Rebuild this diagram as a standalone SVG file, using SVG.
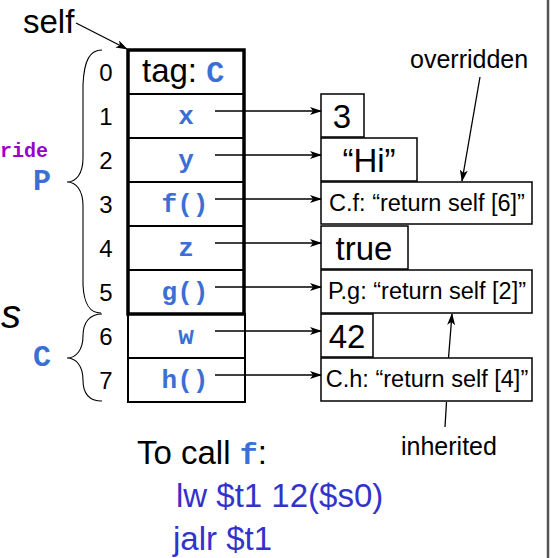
<svg xmlns="http://www.w3.org/2000/svg" width="551" height="558" viewBox="0 0 551 558">
<style>
.sans{font-family:"Liberation Sans",Arial,sans-serif;fill:#000}
.mono{font-family:"Liberation Mono","Courier New",monospace;font-weight:bold;fill:#3b6fd4}
.row{fill:#fff;stroke:#000;stroke-width:2}
.box{fill:#fff;stroke:#000;stroke-width:1.5}
.num{font-family:"Liberation Sans",Arial,sans-serif;font-size:24px;text-anchor:middle}
.fld{font-size:26px;text-anchor:middle}
.big{font-family:"Liberation Sans",Arial,sans-serif;font-size:33px}
.val{font-family:"Liberation Sans",Arial,sans-serif;font-size:23.5px}
.conn{stroke:#000;stroke-width:1.3;fill:none}
.brace{stroke:#000;stroke-width:1.1;fill:none}
.asm{font-family:"Liberation Sans",Arial,sans-serif;font-size:33px;fill:#3333cc}
</style>
<defs>
<marker id="ah" markerWidth="12" markerHeight="8" refX="11" refY="4" orient="auto" markerUnits="userSpaceOnUse">
<path d="M0,0 L12,4 L0,8 L3,4 Z" fill="#000"/>
</marker>
</defs>
<rect width="551" height="558" fill="#fff"/>
<line x1="548" y1="0" x2="548" y2="558" stroke="#555" stroke-width="2.5"/>

<text class="sans" x="23" y="33" font-size="33">self</text>
<text x="48" y="157" font-family="'Liberation Mono','Courier New',monospace" font-weight="bold" font-size="20" fill="#9900cc" text-anchor="end">ride</text>
<text class="mono" x="42" y="190" font-size="30" text-anchor="middle">P</text>
<text class="mono" x="42" y="366" font-size="30" text-anchor="middle">C</text>
<text x="1" y="328" font-family="'Liberation Sans',Arial,sans-serif" font-style="italic" font-size="40" fill="#000">s</text>

<g id="braceP"><path class="brace" d="M102,50 C90,50 84,60 83,85 L83,158 C83,174 76,182 67,182 C76,182 83,190 83,206 L83,285 C84,305 90,313 101,313"/></g>
<g id="braceC"><path class="brace" d="M102,314 C90,314 83,322 83,336 C83,350 76,358 67,358 C76,358 83,366 83,380 C83,394 90,401 102,401"/></g>

<g id="indices">
<text class="num" x="106" y="81">0</text>
<text class="num" x="106" y="125">1</text>
<text class="num" x="106" y="169">2</text>
<text class="num" x="106" y="213">3</text>
<text class="num" x="106" y="257">4</text>
<text class="num" x="106" y="301">5</text>
<text class="num" x="106" y="345">6</text>
<text class="num" x="106" y="389">7</text>
</g>

<g id="row0"><rect class="row" x="128" y="50" width="116" height="44"/><text class="big" x="142" y="82" font-size="33">tag: <tspan class="mono" font-size="30">C</tspan></text></g>
<g id="row1"><rect class="row" x="128" y="94" width="116" height="44"/><text class="mono fld" x="186" y="124">x</text></g>
<g id="row2"><rect class="row" x="128" y="138" width="116" height="44"/><text class="mono fld" x="186" y="168">y</text></g>
<g id="row3"><rect class="row" x="128" y="182" width="116" height="44"/><text class="mono fld" x="185" y="212">f()</text></g>
<g id="row4"><rect class="row" x="128" y="226" width="116" height="44"/><text class="mono fld" x="186" y="256">z</text></g>
<g id="row5"><rect class="row" x="128" y="270" width="116" height="44"/><text class="mono fld" x="185" y="300">g()</text></g>
<g id="row6"><rect class="row" x="128" y="314" width="117" height="44"/><text class="mono fld" x="186" y="344">w</text></g>
<g id="row7"><rect class="row" x="128" y="358" width="117" height="44"/><text class="mono fld" x="185" y="388">h()</text></g>
<rect x="128" y="50" width="116" height="264" fill="none" stroke="#000" stroke-width="3.5"/>

<g id="v3"><rect class="box" x="321" y="94" width="43" height="43"/><text class="big" x="342" y="128" text-anchor="middle">3</text></g>
<g id="vHi"><rect class="box" x="321" y="138" width="96" height="43"/><text class="big" x="369" y="172" text-anchor="middle">“Hi”</text></g>
<g id="vCf"><rect class="box" x="321" y="182" width="211" height="42"/><text class="val" x="427" y="211" text-anchor="middle">C.f: “return self [6]”</text></g>
<g id="vtrue"><rect class="box" x="321" y="226" width="87" height="43"/><text class="big" x="364" y="260" text-anchor="middle">true</text></g>
<g id="vPg"><rect class="box" x="321" y="270" width="211" height="43"/><text class="val" x="427" y="299" text-anchor="middle">P.g: “return self [2]”</text></g>
<g id="v42"><rect class="box" x="321" y="314" width="52" height="43"/><text class="big" x="347" y="348" text-anchor="middle">42</text></g>
<g id="vCh"><rect class="box" x="321" y="358" width="211" height="43"/><text class="val" x="427" y="387" text-anchor="middle">C.h: “return self [4]”</text></g>

<text class="sans" x="410" y="68" font-size="25">overridden</text>
<text class="sans" x="401" y="455" font-size="25">inherited</text>

<g id="connectors">
<line class="conn" x1="76" y1="23" x2="127" y2="49" marker-end="url(#ah)"/>
<line class="conn" x1="215" y1="111" x2="321" y2="111" marker-end="url(#ah)"/>
<line class="conn" x1="215" y1="155" x2="321" y2="155" marker-end="url(#ah)"/>
<line class="conn" x1="215" y1="199" x2="321" y2="199" marker-end="url(#ah)"/>
<line class="conn" x1="215" y1="243" x2="321" y2="243" marker-end="url(#ah)"/>
<line class="conn" x1="215" y1="287" x2="321" y2="287" marker-end="url(#ah)"/>
<line class="conn" x1="215" y1="331" x2="321" y2="331" marker-end="url(#ah)"/>
<line class="conn" x1="215" y1="375" x2="321" y2="375" marker-end="url(#ah)"/>
<line class="conn" x1="480" y1="77" x2="462" y2="181" marker-end="url(#ah)"/>
<path class="conn" d="M445,427 L446.5,402 M448.5,358 L452,314" marker-end="url(#ah)"/>
</g>

<text class="sans" x="137" y="464" font-size="33">To call <tspan class="mono" font-size="30">f</tspan>:</text>
<text class="asm" x="176" y="507">lw $t1 12($s0)</text>
<text class="asm" x="173" y="550">jalr $t1</text>
</svg>
